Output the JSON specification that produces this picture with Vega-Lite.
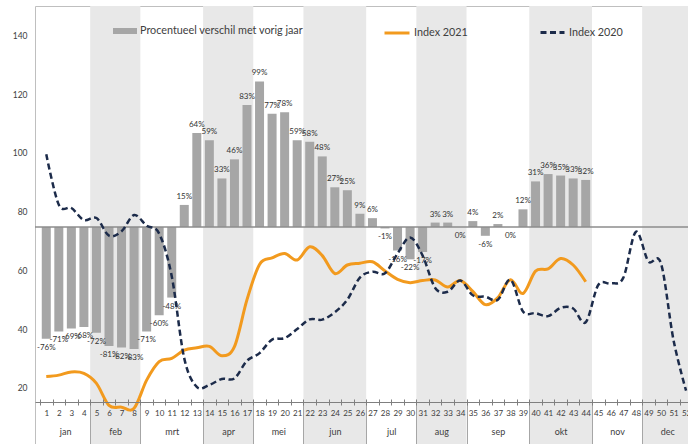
{
  "$schema": "https://vega.github.io/schema/vega-lite/v6.json",
  "width": 653,
  "height": 438,
  "autosize": {"type": "none"},
  "padding": {"left": 35, "top": 6, "right": 0, "bottom": 0},
  "background": "white",
  "config": {
    "view": {"stroke": "#bfbfbf", "strokeWidth": 1},
    "font": "Lato",
    "text": {"font": "Lato"},
    "axis": {"labelFont": "Lato", "labelColor": "#404040", "grid": false, "title": null},
    "legend": {"labelFont": "Lato", "labelColor": "#404040", "padding": 0, "title": null, "labelLimit": 400}
  },
  "datasets": {
    "weeks": [
      {"week": 1, "pct": -0.76, "i2021": 23.8, "i2020": 99.5},
      {"week": 2, "pct": -0.71, "i2021": 24.3, "i2020": 82.3},
      {"week": 3, "pct": -0.69, "i2021": 25.4, "i2020": 81.2},
      {"week": 4, "pct": -0.68, "i2021": 24.9, "i2020": 77.1},
      {"week": 5, "pct": -0.72, "i2021": 21.5, "i2020": 77.8},
      {"week": 6, "pct": -0.81, "i2021": 14.0, "i2020": 71.8},
      {"week": 7, "pct": -0.82, "i2021": 13.4, "i2020": 73.3},
      {"week": 8, "pct": -0.83, "i2021": 13.0, "i2020": 78.8},
      {"week": 9, "pct": -0.71, "i2021": 22.6, "i2020": 75.2},
      {"week": 10, "pct": -0.60, "i2021": 28.9, "i2020": 72.5},
      {"week": 11, "pct": -0.48, "i2021": 30.0, "i2020": 58.0},
      {"week": 12, "pct": 0.15, "i2021": 32.8, "i2020": 30.0},
      {"week": 13, "pct": 0.64, "i2021": 33.6, "i2020": 20.3},
      {"week": 14, "pct": 0.59, "i2021": 34.1, "i2020": 21.0},
      {"week": 15, "pct": 0.33, "i2021": 30.9, "i2020": 23.0},
      {"week": 16, "pct": 0.46, "i2021": 34.0, "i2020": 23.2},
      {"week": 17, "pct": 0.83, "i2021": 50.0, "i2020": 29.2},
      {"week": 18, "pct": 0.99, "i2021": 62.0, "i2020": 31.8},
      {"week": 19, "pct": 0.77, "i2021": 64.2, "i2020": 36.4},
      {"week": 20, "pct": 0.78, "i2021": 65.7, "i2020": 36.9},
      {"week": 21, "pct": 0.59, "i2021": 63.5, "i2020": 40.0},
      {"week": 22, "pct": 0.58, "i2021": 68.0, "i2020": 43.3},
      {"week": 23, "pct": 0.48, "i2021": 65.0, "i2020": 43.2},
      {"week": 24, "pct": 0.27, "i2021": 58.9, "i2020": 45.7},
      {"week": 25, "pct": 0.25, "i2021": 61.8, "i2020": 50.0},
      {"week": 26, "pct": 0.09, "i2021": 62.4, "i2020": 57.5},
      {"week": 27, "pct": 0.06, "i2021": 62.9, "i2020": 59.5},
      {"week": 28, "pct": -0.01, "i2021": 59.8, "i2020": 59.0},
      {"week": 29, "pct": -0.16, "i2021": 56.9, "i2020": 65.7},
      {"week": 30, "pct": -0.22, "i2021": 55.8, "i2020": 71.2},
      {"week": 31, "pct": -0.17, "i2021": 56.5, "i2020": 65.0},
      {"week": 32, "pct": 0.03, "i2021": 56.7, "i2020": 54.0},
      {"week": 33, "pct": 0.03, "i2021": 54.3, "i2020": 52.7},
      {"week": 34, "pct": 0, "i2021": 56.5, "i2020": 56.5},
      {"week": 35, "pct": 0.04, "i2021": 52.8, "i2020": 51.5},
      {"week": 36, "pct": -0.06, "i2021": 48.3, "i2020": 51.0},
      {"week": 37, "pct": 0.02, "i2021": 50.7, "i2020": 50.0},
      {"week": 38, "pct": 0, "i2021": 56.8, "i2020": 56.8},
      {"week": 39, "pct": 0.12, "i2021": 52.1, "i2020": 46.0},
      {"week": 40, "pct": 0.31, "i2021": 59.7, "i2020": 45.4},
      {"week": 41, "pct": 0.36, "i2021": 60.5, "i2020": 44.4},
      {"week": 42, "pct": 0.35, "i2021": 64.0, "i2020": 47.2},
      {"week": 43, "pct": 0.33, "i2021": 61.8, "i2020": 47.0},
      {"week": 44, "pct": 0.32, "i2021": 56.1, "i2020": 42.3},
      {"week": 45, "pct": null, "i2021": null, "i2020": 55.0},
      {"week": 46, "pct": null, "i2021": null, "i2020": 55.5},
      {"week": 47, "pct": null, "i2021": null, "i2020": 57.5},
      {"week": 48, "pct": null, "i2021": null, "i2020": 73.1},
      {"week": 49, "pct": null, "i2021": null, "i2020": 63.0},
      {"week": 50, "pct": null, "i2021": null, "i2020": 62.3},
      {"week": 51, "pct": null, "i2021": null, "i2020": 36.2},
      {"week": 52, "pct": null, "i2021": null, "i2020": 19.0}
    ],
    "months": [
      {"month": "jan", "start": 0.5, "end": 4.5, "shade": false},
      {"month": "feb", "start": 4.5, "end": 8.5, "shade": true},
      {"month": "mrt", "start": 8.5, "end": 13.5, "shade": false},
      {"month": "apr", "start": 13.5, "end": 17.5, "shade": true},
      {"month": "mei", "start": 17.5, "end": 21.5, "shade": false},
      {"month": "jun", "start": 21.5, "end": 26.5, "shade": true},
      {"month": "jul", "start": 26.5, "end": 30.5, "shade": false},
      {"month": "aug", "start": 30.5, "end": 34.5, "shade": true},
      {"month": "sep", "start": 34.5, "end": 39.5, "shade": false},
      {"month": "okt", "start": 39.5, "end": 44.5, "shade": true},
      {"month": "nov", "start": 44.5, "end": 48.5, "shade": false},
      {"month": "dec", "start": 48.5, "end": 52.5, "shade": true}
    ]
  },
  "resolve": {"scale": {"y": "independent"}, "axis": {"x": "independent"}},
  "layer": [
    {
      "data": {"name": "months"},
      "transform": [{"filter": "datum.shade"}],
      "mark": {"type": "rect", "color": "#e8e8e8", "clip": true},
      "encoding": {
        "x": {
          "field": "start", "type": "quantitative",
          "scale": {"domain": [0.5, 51.755], "nice": false, "zero": false},
          "axis": {
            "orient": "bottom", "zindex": 2,
            "values": [2.5, 6.5, 11, 15.5, 19.5, 24, 28.5, 32.5, 37, 42, 46.5, 50.5],
            "labelExpr": "['jan','feb','mrt','apr','mei','jun','jul','aug','sep','okt','nov','dec'][indexof([2.5,6.5,11,15.5,19.5,24,28.5,32.5,37,42,46.5,50.5], datum.value)]",
            "ticks": false, "domain": false, "offset": -42, "labelPadding": 25,
            "labelFontSize": 9, "labelOverlap": false, "labelFlush": false, "labelBound": false
          }
        },
        "x2": {"field": "end"}
      }
    },
    {
      "data": {"name": "weeks"},
      "transform": [{"filter": "isValid(datum.pct)"}],
      "mark": {"type": "bar", "width": 9},
      "encoding": {
        "x": {
          "field": "week", "type": "quantitative",
          "axis": {
            "orient": "bottom", "zindex": 2,
            "values": [1,2,3,4,5,6,7,8,9,10,11,12,13,14,15,16,17,18,19,20,21,22,23,24,25,26,27,28,29,30,31,32,33,34,35,36,37,38,39,40,41,42,43,44,45,46,47,48,49,50,51,52],
            "ticks": false, "domain": true, "domainColor": "#7f7f7f", "domainWidth": 1,
            "offset": -42, "labelPadding": 7, "labelFontSize": 8,
            "labelOverlap": false, "labelFlush": false, "labelBound": false
          }
        },
        "y": {"field": "pct", "type": "quantitative", "scale": {"domain": [-1.476, 1.503], "nice": false, "zero": false}, "axis": null},
        "y2": {"datum": 0},
        "fill": {
          "datum": "Procentueel verschil met vorig jaar",
          "scale": {"range": ["#a6a6a6"]},
          "legend": {
            "orient": "none", "legendX": 78, "legendY": 13,
            "symbolType": "M-1,-0.25L1,-0.25L1,0.25L-1,0.25Z", "symbolSize": 576,
            "symbolStrokeWidth": 0, "labelFontSize": 10.8, "labelOffset": 3, "labelLimit": 400
          }
        }
      }
    },
    {
      "data": {"values": [{"baseline": 0}]},
      "mark": {"type": "rule", "color": "#8c8c8c", "strokeWidth": 1.5},
      "encoding": {
        "y": {"field": "baseline", "type": "quantitative", "scale": {"domain": [-1.476, 1.503], "nice": false, "zero": false}, "axis": null}
      }
    },
    {
      "data": {"name": "weeks"},
      "transform": [
        {"filter": "isValid(datum.pct) && datum.pct > 0"},
        {"calculate": "format(datum.pct, '.0%')", "as": "label"}
      ],
      "mark": {"type": "text", "baseline": "middle", "dy": -8, "fontSize": 8, "color": "#333333"},
      "encoding": {
        "x": {"field": "week", "type": "quantitative", "axis": null},
        "y": {"field": "pct", "type": "quantitative", "scale": {"domain": [-1.476, 1.503], "nice": false, "zero": false}, "axis": null},
        "text": {"field": "label", "type": "nominal"}
      }
    },
    {
      "data": {"name": "weeks"},
      "transform": [
        {"filter": "isValid(datum.pct) && datum.pct <= 0"},
        {"calculate": "(datum.pct < 0 ? '-' : '') + format(abs(datum.pct), '.0%')", "as": "label"}
      ],
      "mark": {"type": "text", "baseline": "middle", "dy": 9, "fontSize": 8, "color": "#333333"},
      "encoding": {
        "x": {"field": "week", "type": "quantitative", "axis": null},
        "y": {"field": "pct", "type": "quantitative", "scale": {"domain": [-1.476, 1.503], "nice": false, "zero": false}, "axis": null},
        "text": {"field": "label", "type": "nominal"}
      }
    },
    {
      "data": {"name": "weeks"},
      "transform": [{"filter": "isValid(datum.i2021)"}],
      "mark": {"type": "line", "interpolate": "cardinal", "strokeWidth": 3, "clip": true},
      "encoding": {
        "x": {
          "field": "week", "type": "quantitative",
          "axis": {
            "orient": "bottom", "zindex": 2,
            "values": [4.5, 8.5, 13.5, 17.5, 21.5, 26.5, 30.5, 34.5, 39.5, 44.5, 48.5],
            "labels": false, "domain": false, "ticks": true, "tickSize": 45,
            "tickColor": "#a6a6a6", "tickWidth": 1, "offset": -42
          }
        },
        "y": {
          "field": "i2021", "type": "quantitative",
          "scale": {"domain": [0.85, 150], "nice": false, "zero": false},
          "axis": {"orient": "left", "zindex": 2, "values": [20, 40, 60, 80, 100, 120, 140], "ticks": false, "domain": false, "labelPadding": 8, "labelFontSize": 8.5}
        },
        "stroke": {
          "datum": "Index 2021",
          "scale": {"range": ["#f29a1e"]},
          "legend": {
            "orient": "none", "legendX": 348, "legendY": 13,
            "symbolType": "stroke", "symbolSize": 625, "symbolStrokeWidth": 3,
            "labelFontSize": 10.8, "labelOffset": 3
          }
        }
      }
    },
    {
      "data": {"name": "weeks"},
      "mark": {"type": "line", "interpolate": "cardinal", "strokeWidth": 2.5, "color": "#1c2b4a", "clip": true},
      "encoding": {
        "x": {
          "field": "week", "type": "quantitative",
          "axis": {
            "orient": "bottom", "zindex": 2,
            "values": [0.5,1.5,2.5,3.5,4.5,5.5,6.5,7.5,8.5,9.5,10.5,11.5,12.5,13.5,14.5,15.5,16.5,17.5,18.5,19.5,20.5,21.5,22.5,23.5,24.5,25.5,26.5,27.5,28.5,29.5,30.5,31.5,32.5,33.5,34.5,35.5,36.5,37.5,38.5,39.5,40.5,41.5,42.5,43.5,44.5,45.5,46.5,47.5,48.5,49.5,50.5,51.5],
            "labels": false, "domain": false, "ticks": true, "tickSize": 6,
            "tickColor": "#7f7f7f", "tickWidth": 1, "offset": -45
          }
        },
        "y": {"field": "i2020", "type": "quantitative", "scale": {"domain": [0.85, 150], "nice": false, "zero": false}, "axis": null},
        "strokeDash": {
          "datum": "Index 2020",
          "scale": {"range": [[6, 3.5]]},
          "legend": {
            "orient": "none", "legendX": 504, "legendY": 13,
            "symbolType": "stroke", "symbolSize": 576, "symbolStrokeWidth": 3,
            "symbolStrokeColor": "#1c2b4a",
            "labelFontSize": 10.8, "labelOffset": 3
          }
        }
      }
    }
  ]
}
